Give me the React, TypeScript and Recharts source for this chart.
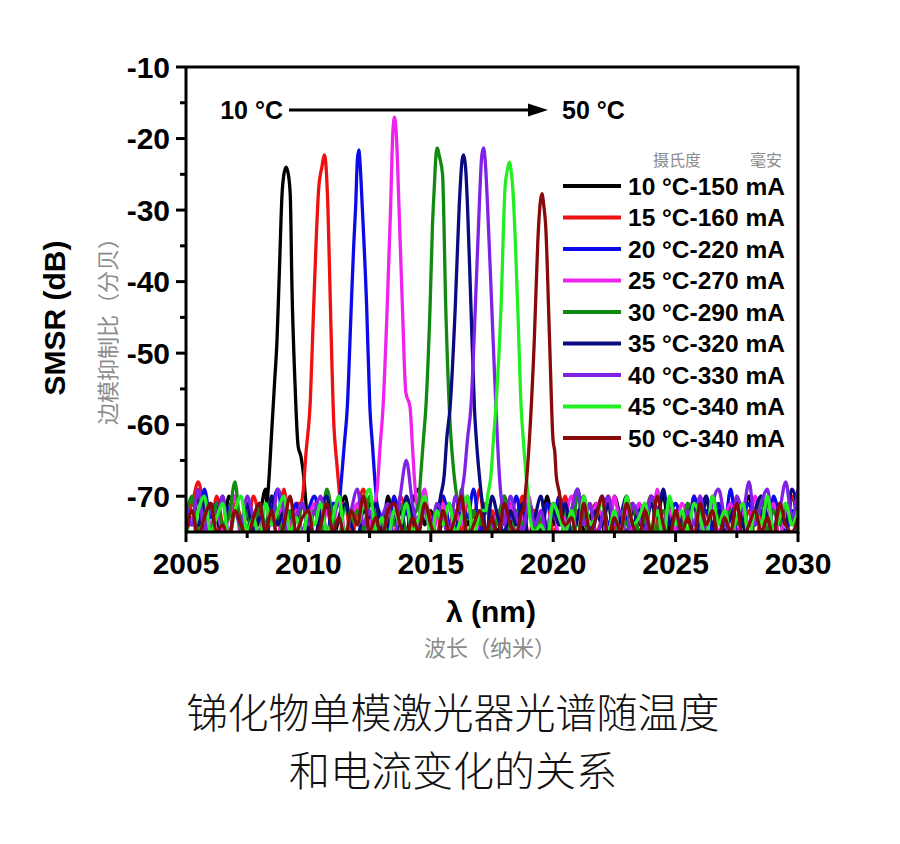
import React from 'react';
import { LineChart, Line, XAxis, YAxis } from 'recharts';

// wavelength grid of the noise floor samples (nm)
const GRID_START = 2005;
const GRID_STEP = 0.25;
const GRID_COUNT = 101;

const seriesNames = [
  '10 °C-150 mA',
  '15 °C-160 mA',
  '20 °C-220 mA',
  '25 °C-270 mA',
  '30 °C-290 mA',
  '35 °C-320 mA',
  '40 °C-330 mA',
  '45 °C-340 mA',
  '50 °C-340 mA',
];

const seriesColors = [
  '#000000',
  '#ee1111',
  '#0b0bea',
  '#f022f0',
  '#128a12',
  '#0a0a82',
  '#7f22e6',
  '#22ee22',
  '#880a0a',
];

// noise floor (dB), one value per grid step
const noise10 = [
  -72, -74, -70, -75, -71, -73, -76, -70, -72, -74,
  -71, -75, -73, -69, -74, -72, -76, -71, -73, -70,
  -75, -72, -74, -71, -76, -73, -70, -74, -72, -75,
  -71, -73, -76, -70, -74, -72, -75, -71, -69, -74,
  -72, -76, -73, -71, -75, -70, -74, -72, -76, -71,
  -73, -75, -70, -74, -72, -76, -71, -73, -75, -70,
  -74, -71, -76, -72, -69, -75, -73, -71, -74, -76,
  -70, -73, -75, -72, -74, -71, -76, -73, -70, -75,
  -72, -74, -71, -76, -73, -70, -75, -72, -74, -71,
  -76, -73, -70, -74, -72, -75, -71, -73, -76, -70,
  -74, -72,
];
const noise15 = [
  -73, -71, -68, -72, -75, -70, -74, -76, -71, -73,
  -75, -70, -73, -76, -72, -74, -69, -75, -71, -73,
  -76, -72, -70, -74, -73, -75, -71, -76, -72, -69,
  -74, -71, -75, -73, -76, -70, -72, -74, -75, -71,
  -73, -76, -70, -74, -72, -75, -71, -73, -69, -76,
  -72, -74, -71, -75, -73, -70, -76, -72, -74, -71,
  -75, -73, -70, -76, -72, -74, -71, -75, -73, -70,
  -74, -76, -72, -71, -75, -73, -70, -74, -76, -72,
  -71, -73, -75, -70, -74, -72, -76, -71, -73, -75,
  -70, -74, -72, -76, -73, -71, -75, -72, -74, -70,
  -73, -75,
];
const noise20 = [
  -74, -72, -75, -69, -73, -71, -76, -72, -70, -74,
  -73, -75, -71, -76, -72, -69, -74, -73, -71, -75,
  -72, -70, -74, -76, -71, -73, -75, -72, -69, -74,
  -76, -71, -73, -75, -70, -74, -72, -76, -73, -71,
  -75, -72, -70, -74, -76, -71, -73, -69, -75, -72,
  -74, -76, -71, -73, -70, -75, -72, -74, -76, -71,
  -73, -70, -75, -72, -74, -71, -76, -73, -70, -74,
  -72, -75, -73, -76, -71, -74, -70, -72, -75, -73,
  -71, -74, -76, -70, -73, -72, -75, -71, -74, -69,
  -75, -73, -71, -74, -72, -76, -70, -73, -75, -72,
  -74, -71,
];
const noise25 = [
  -75, -73, -76, -71, -74, -72, -75, -73, -70, -76,
  -72, -74, -71, -75, -73, -76, -70, -74, -72, -75,
  -73, -71, -76, -72, -74, -70, -75, -73, -71, -76,
  -74, -72, -75, -70, -73, -76, -71, -74, -72, -69,
  -76, -73, -71, -75, -72, -74, -70, -76, -73, -71,
  -75, -72, -74, -71, -76, -73, -70, -75, -72, -74,
  -71, -76, -73, -70, -74, -72, -75, -71, -73, -76,
  -70, -74, -72, -75, -71, -73, -76, -69, -74, -72,
  -75, -71, -73, -76, -70, -74, -72, -75, -73, -71,
  -76, -72, -74, -70, -75, -73, -71, -76, -72, -74,
  -73, -75,
];
const noise30 = [
  -73, -70, -75, -72, -76, -71, -74, -73, -68, -75,
  -72, -76, -71, -74, -70, -73, -75, -72, -76, -71,
  -74, -72, -75, -69, -73, -76, -71, -74, -72, -75,
  -70, -73, -76, -72, -74, -71, -75, -73, -70, -76,
  -72, -74, -71, -75, -73, -69, -76, -72, -74, -71,
  -75, -73, -70, -76, -72, -74, -71, -75, -73, -76,
  -71, -74, -72, -75, -70, -73, -76, -72, -74, -71,
  -76, -72, -74, -71, -75, -73, -70, -76, -72, -74,
  -73, -75, -71, -74, -72, -76, -70, -73, -75, -72,
  -74, -71, -76, -73, -70, -75, -72, -74, -71, -73,
  -75, -72,
];
const noise35 = [
  -76, -72, -74, -71, -75, -73, -70, -76, -72, -74,
  -71, -75, -73, -76, -70, -74, -72, -75, -73, -71,
  -74, -76, -72, -70, -75, -73, -71, -74, -76, -72,
  -73, -71, -75, -74, -72, -76, -70, -73, -75, -71,
  -74, -72, -76, -70, -73, -75, -71, -74, -72, -76,
  -70, -73, -75, -72, -74, -71, -76, -73, -70, -75,
  -72, -74, -71, -76, -73, -70, -75, -72, -74, -71,
  -76, -73, -70, -74, -72, -75, -71, -73, -69, -74,
  -72, -75, -73, -71, -76, -70, -74, -72, -75, -73,
  -71, -74, -76, -72, -70, -73, -75, -71, -74, -69,
  -72, -75,
];
const noise40 = [
  -71, -74, -69, -75, -72, -73, -70, -76, -72, -74,
  -70, -73, -75, -71, -74, -69, -72, -76, -73, -71,
  -74, -72, -70, -75, -73, -71, -76, -72, -69, -74,
  -72, -75, -73, -71, -76, -70, -65, -71, -74, -72,
  -75, -71, -73, -76, -70, -74, -72, -75, -71, -73,
  -76, -72, -74, -70, -73, -75, -71, -74, -72, -76,
  -71, -73, -75, -72, -69, -74, -71, -76, -73, -70,
  -74, -72, -76, -71, -73, -75, -70, -72, -74, -71,
  -73, -76, -72, -74, -70, -75, -71, -69, -73, -76,
  -70, -72, -68, -74, -71, -69, -75, -72, -68, -73,
  -69, -74,
];
const noise45 = [
  -74, -76, -72, -70, -75, -73, -71, -76, -72, -70,
  -75, -73, -76, -71, -74, -72, -70, -75, -73, -76,
  -72, -74, -71, -75, -73, -70, -76, -72, -74, -71,
  -69, -75, -73, -76, -72, -74, -71, -75, -73, -70,
  -76, -72, -74, -71, -75, -73, -70, -76, -72, -74,
  -71, -75, -73, -76, -74, -75, -76, -75, -74, -76,
  -71, -73, -75, -72, -76, -70, -74, -73, -71, -75,
  -72, -76, -70, -74, -73, -71, -75, -72, -76, -70,
  -74, -72, -75, -71, -73, -76, -70, -74, -72, -75,
  -73, -71, -76, -72, -74, -70, -75, -73, -71, -74,
  -72, -75,
];
const noise50 = [
  -75, -72, -76, -73, -71, -75, -74, -76, -72, -74,
  -76, -73, -71, -75, -72, -76, -74, -70, -75, -73,
  -72, -76, -74, -71, -75, -73, -76, -72, -74, -70,
  -75, -73, -76, -72, -71, -74, -76, -73, -75, -71,
  -74, -76, -72, -75, -73, -70, -76, -74, -72, -75,
  -73, -76, -71, -74, -75, -72, -76, -73, -75, -71,
  -76, -72, -74, -73, -76, -71, -75, -73, -70, -76,
  -73, -75, -71, -74, -76, -72, -75, -70, -74, -76,
  -72, -75, -73, -76, -71, -74, -72, -76, -73, -75,
  -71, -76, -74, -72, -75, -73, -76, -71, -74, -75,
  -73, -76,
];

// lasing peaks: [wavelength nm, dB]
const peak10: [number, number][] = [
  [2008.3, -71], [2008.38, -68], [2008.5, -61], [2008.62, -54], [2008.72, -48],
  [2008.82, -38], [2008.92, -28], [2009.0, -25], [2009.09, -24], [2009.18, -25],
  [2009.26, -28], [2009.33, -41], [2009.45, -54], [2009.58, -63], [2009.7, -64.5],
  [2009.8, -67], [2009.9, -71],
];
const peak15: [number, number][] = [
  [2009.7, -71], [2009.78, -69.5], [2009.9, -64], [2010.08, -56.5], [2010.2, -45],
  [2010.32, -34], [2010.42, -27], [2010.55, -24], [2010.66, -22.3], [2010.74, -25],
  [2010.8, -30], [2010.9, -43.5], [2011.04, -60], [2011.15, -65], [2011.24, -68.5],
  [2011.32, -71],
];
const peak20: [number, number][] = [
  [2011.25, -71], [2011.34, -68], [2011.46, -63], [2011.59, -57.5], [2011.75, -43.5],
  [2011.85, -35], [2011.93, -29.5], [2012.0, -23], [2012.06, -21.6], [2012.12, -24],
  [2012.2, -29.5], [2012.38, -43.5], [2012.51, -57.5], [2012.62, -63], [2012.7, -67],
  [2012.8, -71],
];
const peak25: [number, number][] = [
  [2012.72, -71], [2012.81, -69], [2012.93, -63], [2013.05, -57.5], [2013.22, -43.5],
  [2013.36, -29.5], [2013.45, -19], [2013.52, -17], [2013.6, -20], [2013.7, -29.5],
  [2013.84, -43.5], [2013.98, -55.5], [2014.15, -57.5], [2014.25, -63], [2014.32, -67],
  [2014.42, -71],
];
const peak30: [number, number][] = [
  [2014.5, -71], [2014.59, -67], [2014.7, -62], [2014.8, -57.5], [2014.97, -43.5],
  [2015.07, -32], [2015.14, -27], [2015.22, -22], [2015.27, -21.3], [2015.35, -22.5],
  [2015.48, -25], [2015.61, -43.5], [2015.79, -60], [2015.95, -67], [2016.06, -70],
  [2016.15, -72],
];
const peak35: [number, number][] = [
  [2015.3, -72], [2015.4, -70], [2015.55, -67], [2015.65, -62], [2015.79, -57.5],
  [2016.0, -43.5], [2016.16, -29.5], [2016.28, -23], [2016.34, -22.3], [2016.42, -24],
  [2016.5, -29.5], [2016.64, -43.5], [2016.78, -57.5], [2016.88, -63], [2016.98, -67],
  [2017.07, -70], [2017.15, -72],
];
const peak40: [number, number][] = [
  [2016.2, -72], [2016.27, -69.5], [2016.37, -67], [2016.5, -62], [2016.64, -57.5],
  [2016.82, -43.5], [2016.98, -29.5], [2017.08, -22.5], [2017.15, -21.3], [2017.22, -23],
  [2017.32, -29.5], [2017.49, -43.5], [2017.66, -57.5], [2017.8, -67], [2017.87, -70],
  [2017.95, -72],
];
const peak45: [number, number][] = [
  [2017.25, -72], [2017.32, -70], [2017.46, -67], [2017.56, -62], [2017.66, -57.5],
  [2017.87, -43.5], [2018.03, -27], [2018.12, -24.5], [2018.21, -23.3], [2018.28, -24.5],
  [2018.35, -27], [2018.55, -43.5], [2018.69, -57.5], [2018.8, -63], [2018.89, -67],
  [2018.98, -70], [2019.05, -73],
];
const peak50: [number, number][] = [
  [2018.78, -72], [2018.85, -70], [2018.93, -67], [2019.03, -62], [2019.23, -48],
  [2019.37, -34.5], [2019.47, -29], [2019.54, -27.7], [2019.62, -29.5], [2019.69, -32],
  [2019.85, -48], [2019.99, -62], [2020.07, -64], [2020.12, -67], [2020.27, -70],
  [2020.35, -73],
];

const noiseSets = [noise10, noise15, noise20, noise25, noise30, noise35, noise40, noise45, noise50];
const peakSets = [peak10, peak15, peak20, peak25, peak30, peak35, peak40, peak45, peak50];

const xMajor = [2005, 2010, 2015, 2020, 2025, 2030];
const xMinor = [2007.5, 2012.5, 2017.5, 2022.5, 2027.5];
const yMajor = [-10, -20, -30, -40, -50, -60, -70];
const yMinor = [-15, -25, -35, -45, -55, -65];

function buildSeries(noise: number[], peak: [number, number][]) {
  const lo = peak[0][0];
  const hi = peak[peak.length - 1][0];
  const pts: { x: number; y: number }[] = [];
  noise.slice(0, GRID_COUNT).forEach((v, i) => {
    const x = GRID_START + i * GRID_STEP;
    if (x < lo || x > hi) pts.push({ x, y: v });
  });
  peak.forEach(([x, y]) => pts.push({ x, y }));
  return pts.sort((a, b) => a.x - b.x);
}

const series = seriesNames.map((name, i) => ({
  name,
  color: seriesColors[i],
  data: buildSeries(noiseSets[i], peakSets[i]),
}));

const boldFont = "'Liberation Sans', Arial, sans-serif";
const cjkFont = "'Noto Sans CJK SC', 'Noto Sans', sans-serif";

const XTick = (props: any) => {
  const { x, y, payload } = props;
  const major = xMajor.includes(payload.value);
  return (
    <g>
      <line x1={x} x2={x} y1={y} y2={y + (major ? 10 : 6)} stroke="#000" strokeWidth={3} />
      {major && (
        <text x={x} y={y + 42} textAnchor="middle" fill="#000"
          style={{ fontFamily: boldFont, fontWeight: 700, fontSize: 30 }}>
          {payload.value}
        </text>
      )}
    </g>
  );
};

const YTick = (props: any) => {
  const { x, y, payload } = props;
  const major = yMajor.includes(payload.value);
  return (
    <g>
      <line x1={x - (major ? 10 : 6)} x2={x} y1={y} y2={y} stroke="#000" strokeWidth={3} />
      {major && (
        <text x={x - 16} y={y} dy="0.36em" textAnchor="end" fill="#000"
          style={{ fontFamily: boldFont, fontWeight: 700, fontSize: 30 }}>
          {payload.value}
        </text>
      )}
    </g>
  );
};

export default function App() {
  return (
    <div style={{ position: 'absolute', left: 0, top: 0, width: 900, height: 844, background: '#fff' }}>
      <LineChart
        width={900}
        height={600}
        margin={{ top: 67, right: 102, bottom: 28, left: 106 }}
      >
        <XAxis
          type="number"
          dataKey="x"
          domain={[2005, 2030]}
          ticks={[...xMajor, ...xMinor]}
          interval={0}
          tick={<XTick />}
          tickLine={false}
          tickSize={0}
          tickMargin={0}
          height={40}
          axisLine={{ stroke: '#000', strokeWidth: 3 }}
          allowDataOverflow
        />
        <YAxis
          type="number"
          domain={[-75, -10]}
          ticks={[...yMajor, ...yMinor]}
          interval={0}
          tick={<YTick />}
          tickLine={false}
          tickSize={0}
          tickMargin={0}
          width={80}
          axisLine={{ stroke: '#000', strokeWidth: 3 }}
          allowDataOverflow
        />
        {series.map((s) => (
          <Line
            key={s.name}
            data={s.data}
            dataKey="y"
            name={s.name}
            type="monotone"
            stroke={s.color}
            strokeWidth={3.3}
            strokeLinejoin="round"
            dot={false}
            activeDot={false}
            isAnimationActive={false}
          />
        ))}
      </LineChart>

      <svg
        width={900}
        height={844}
        style={{ position: 'absolute', left: 0, top: 0, pointerEvents: 'none' }}
      >
        {/* frame */}
        <line x1={186} y1={67} x2={799.5} y2={67} stroke="#000" strokeWidth={3} />
        <line x1={798} y1={67} x2={798} y2={533.5} stroke="#000" strokeWidth={3} />

        {/* temperature arrow */}
        <text x={283} y={110} dy="0.36em" textAnchor="end"
          style={{ fontFamily: boldFont, fontWeight: 700, fontSize: 25 }}>10 °C</text>
        <line x1={289} y1={110} x2={532} y2={110} stroke="#000" strokeWidth={3} />
        <polygon points="528,103.5 548,110 528,116.5" fill="#000" />
        <text x={562} y={110} dy="0.36em" textAnchor="start"
          style={{ fontFamily: boldFont, fontWeight: 700, fontSize: 25 }}>50 °C</text>

        {/* legend */}
        <text x={677} y={160} dy="0.36em" textAnchor="middle" fill="#8c8c8c"
          style={{ fontFamily: cjkFont, fontSize: 16 }}>摄氏度</text>
        <text x={766} y={160} dy="0.36em" textAnchor="middle" fill="#8c8c8c"
          style={{ fontFamily: cjkFont, fontSize: 16 }}>毫安</text>
        {series.map((s, i) => {
          const y = 186 + i * 31.5;
          return (
            <g key={s.name}>
              <line x1={563} x2={621} y1={y} y2={y} stroke={s.color} strokeWidth={4} />
              <text x={628} y={y} dy="0.36em" fill="#000"
                style={{ fontFamily: boldFont, fontWeight: 700, fontSize: 24.5 }}>{s.name}</text>
            </g>
          );
        })}

        {/* axis titles */}
        <text transform="translate(54,318) rotate(-90)" dy="0.36em" textAnchor="middle" fill="#000"
          style={{ fontFamily: boldFont, fontWeight: 700, fontSize: 30 }}>SMSR (dB)</text>
        <text transform="translate(108,326) rotate(-90)" dy="0.36em" textAnchor="middle" fill="#8c8c8c"
          style={{ fontFamily: cjkFont, fontSize: 22 }}>边模抑制比（分贝）</text>
        <text x={491} y={611} dy="0.36em" textAnchor="middle" fill="#000"
          style={{ fontFamily: boldFont, fontWeight: 700, fontSize: 30 }}>λ (nm)</text>
        <text x={490} y={648} dy="0.36em" textAnchor="middle" fill="#8c8c8c"
          style={{ fontFamily: cjkFont, fontSize: 22 }}>波长（纳米）</text>

        {/* caption */}
        <text x={453} y={713} dy="0.36em" textAnchor="middle" fill="#111"
          style={{ fontFamily: cjkFont, fontWeight: 300, fontSize: 41 }}>锑化物单模激光器光谱随温度</text>
        <text x={453} y={771} dy="0.36em" textAnchor="middle" fill="#111"
          style={{ fontFamily: cjkFont, fontWeight: 300, fontSize: 41 }}>和电流变化的关系</text>
      </svg>
    </div>
  );
}
